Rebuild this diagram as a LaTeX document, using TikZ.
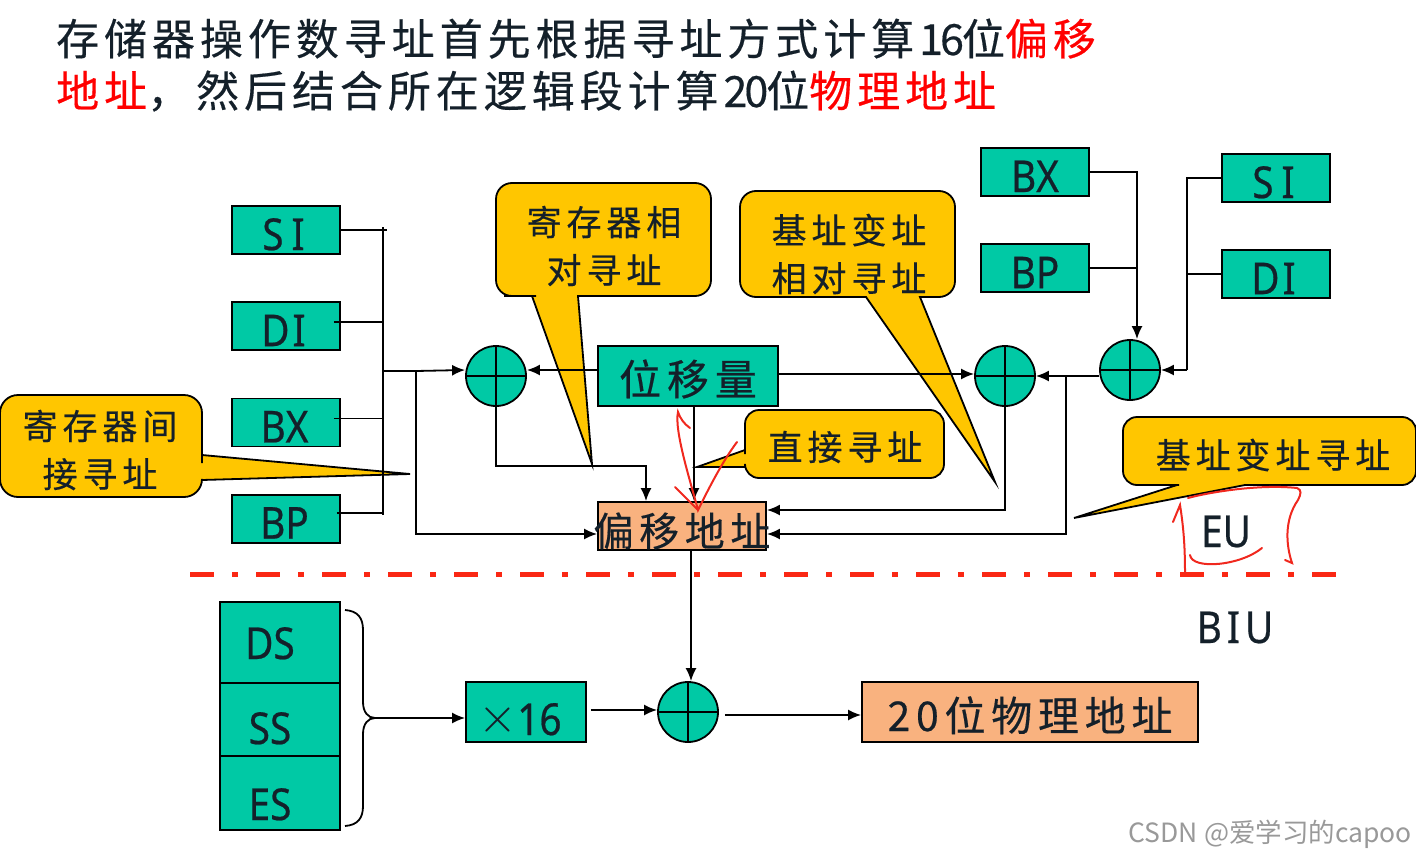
\documentclass[tikz,border=0pt]{standalone}
\usepackage{fontspec}
\setmainfont{Noto Sans CJK SC}
\newfontfamily\regfont[FakeStretch=0.88,FakeBold=0.5]{Noto Sans}
\newfontfamily\titlefont[LetterSpace=11.5,FakeBold=0.4]{Noto Sans CJK SC}
\newfontfamily\wordfont[LetterSpace=14,FakeBold=0.4]{Noto Sans CJK SC}
\newcommand{\crosssign}{\raisebox{3pt}{\scalebox{5}{\fontsize{10}{12}\selectfont$\times$}}}
\usetikzlibrary{arrows.meta,positioning}
\definecolor{reggreen}{HTML}{00C9A5}
\definecolor{bubblegold}{HTML}{FFC600}
\definecolor{addrorange}{HTML}{F9B27F}
\definecolor{ink}{HTML}{14202A}
\definecolor{penred}{HTML}{F0281E}
\definecolor{cutred}{HTML}{FA2814}

\begin{document}
\begin{tikzpicture}[
    x=1pt, y=-1pt,
    text=ink,
    node distance=46.4pt,
    regbox/.style={
        draw=black,
        line width=1.8pt,
        fill=reggreen,
        minimum width=108pt,
        minimum height=48pt,
        inner sep=0pt,
        text height=40pt,
        text depth=0pt,
        font=\fontsize{44}{44}\regfont
    },
    segbox/.style={draw=black, line width=1.8pt, fill=reggreen, minimum width=120pt, inner sep=0pt, outer sep=0pt},
    segtext/.style={anchor=base, inner sep=0pt, font=\fontsize{44}{44}\regfont},
    adder/.style={
        circle, draw=black, line width=1.8pt, fill=reggreen,
        minimum size=60pt, inner sep=0pt,
        path picture={
            \draw[line width=1.8pt] (path picture bounding box.north) -- (path picture bounding box.south)
                (path picture bounding box.west) -- (path picture bounding box.east);
        }
    },
    arrow/.style={-{Latex[length=13pt,width=11pt]}, line width=1.8pt, draw=black},
    wire/.style={line width=1.8pt, draw=black},
    bubble/.style={draw=black, line width=1.8pt, fill=bubblegold},
    bubbletext/.style={inner sep=0pt, align=center, font=\fontsize{35}{48}\wordfont},
    pen/.style={draw=penred, line width=2pt, line cap=round}
]
\useasboundingbox (0,0) rectangle (1416,859);

% heading
\node[anchor=base west, inner sep=0pt, font=\fontsize{43}{52}\titlefont] (title1) at (56,55)
    {存储器操作数寻址首先根据寻址方式计算1\kern-3pt 6\kern-2pt 位\textcolor{red}{偏移}};
\node[anchor=base west, inner sep=0pt, font=\fontsize{43}{52}\titlefont] (title2) at (56,107)
    {\textcolor{red}{地址}，\kern6pt 然后结合所在逻辑段计算2\kern-3pt 0\kern-2pt 位\textcolor{red}{物理地址}};

% callouts go under the wires
\draw[bubble] (532,296) -- (592,464) -- (578,296) -- (600,296) [rounded corners=16pt] -- (711,296) -- (711,183)
    -- (496,183) -- (496,296) -- (520,296) [sharp corners] -- cycle;
\node[bubbletext] (relreg) at (604,246) {寄存器相\\对寻址};
\draw[bubble] (866,297) -- (995,482) -- (920,297) -- (930,297) [rounded corners=16pt] -- (955,297) -- (955,191)
    -- (740,191) -- (740,297) -- (850,297) [sharp corners] -- cycle;
\node[bubbletext] (relbase) at (849,254) {基址变址\\相对寻址};
\draw[bubble] (745,450) -- (697,467) -- (745,467) [rounded corners=14pt] -- (745,478) -- (944,478) -- (944,410)
    -- (745,410) -- (745,440) [sharp corners] -- cycle;
\node[bubbletext] (direct) at (845,447) {直接寻址};
\draw[bubble] (202,455) -- (410,474) -- (202,480) [rounded corners=18pt] -- (202,497) -- (0,497) -- (0,395)
    -- (202,395) -- (202,445) [sharp corners] -- cycle;
\node[bubbletext] (indirect) at (100,450) {寄存器间\\接寻址};
\draw[bubble] (1177,485) -- (1074,518) -- (1245,485) -- (1260,485) [rounded corners=14pt] -- (1416,485) -- (1416,417)
    -- (1123,417) -- (1123,485) -- (1165,485) [sharp corners] -- cycle;
\node[bubbletext] (basedx) at (1273,455) {基址变址寻址};

% registers
\node[regbox] (si1) at (286,230) {S\kern8pt I\kern5pt};
\node[regbox, below=of si1] (di1) {D\kern3pt I\kern5pt};
\node[regbox, below=of di1] (bx1) {BX\kern3pt};
\node[regbox, below=of bx1] (bp1) {BP\kern3pt};
\node[regbox] (bx2) at (1035,172) {BX};
\node[regbox, below=of bx2] (bp2) {BP};
\node[regbox] (si2) at (1276,178) {S\kern8pt I\kern5pt};
\node[regbox, below=of si2] (di2) {D\kern3pt I\kern5pt};

\node[regbox, minimum width=180pt, minimum height=60pt, text height=38pt, font=\fontsize{42}{42}\wordfont] (disp) at (688,376) {位移量};
\node[draw=black, line width=1.8pt, fill=addrorange, minimum width=168pt, minimum height=48pt, inner sep=0pt] (offset) at (682,526) {};
\node[inner sep=0pt, font=\fontsize{40}{40}\wordfont] (offsettext) at (682,531) {偏移地址};

\node[adder] (addl) at (496,376) {};
\node[adder] (addm) at (1005,376) {};
\node[adder] (addr) at (1130,370) {};
\node[adder] (addb) at (688,712) {};

% left bus
\coordinate (busin) at (383,371);
\coordinate (splitl) at (416,371);
\draw[wire] (383,227) -- (383,515);
\draw[wire] (si1.east) -- (si1.east -| 387,0);
\draw[wire] ([xshift=-7pt,yshift=4pt]di1.east) -- ([yshift=4pt]di1.east -| busin);
\draw[wire] ([xshift=-7pt,yshift=4pt]bx1.east) -- ([yshift=4pt]bx1.east -| busin);
\draw[wire] ([xshift=-4pt,yshift=6pt]bp1.east) -- ([yshift=6pt]bp1.east -| busin);
\draw[wire] (busin) -- (splitl);
\draw[arrow] (splitl) -- ([yshift=6pt]addl.west);
\draw[arrow] (splitl) |- ([yshift=-8pt]offset.west);

% displacement
\draw[arrow] ([yshift=6pt]disp.west) -- ([yshift=6pt]addl.east);
\draw[arrow] ([yshift=2pt]disp.east) -- ([yshift=2pt]addm.west);
\draw[arrow] (disp.south -| 694,0) -- (offset.north -| 694,0);
\draw[arrow] (addl.south) |- (646,466) -- (offset.north -| 646,0);

% right side
\draw[wire] (bx2.east) -| (1137,300);
\draw[wire] (bp2.east) -- (bp2.east -| 1137,0);
\draw[arrow] (bp2.east -| 1137,0) -- (addr.north -| 1137,0);
\draw[wire] (si2.west) -| (1187,370);
\draw[wire] (di2.west) -- (di2.west -| 1187,0);
\draw[arrow] (1187,370) -- (addr.east);
\draw[arrow] (addr.west |- 0,376) -- (addm.east);
\draw[arrow] (addm.south) |- ([yshift=16pt]offset.east);
\draw[arrow] (1066,376) |- ([yshift=-8pt]offset.east);

% cut between the units
\coordinate (cuta) at (190,574);
\coordinate (cutb) at (1336,574);
\draw[draw=cutred, line width=5pt, dash pattern=on 24pt off 18pt on 6pt off 18pt] (cuta) -- (cutb);

\node[inner sep=0pt, anchor=base, font=\fontsize{44}{44}\regfont] (eu) at (1226,547) {EU};
\node[inner sep=0pt, anchor=base, font=\fontsize{44}{44}\regfont] (biu) at (1235,643) {B\kern5pt I\kern5pt U};

% segment registers
\node[segbox, minimum height=81pt] (ds) at (280,642.5) {};
\node[segbox, minimum height=73pt, below=0pt of ds] (ss) {};
\node[segbox, minimum height=74pt, below=0pt of ss] (es) {};
\node[segtext] (dstext) at (270,659) {DS};
\node[segtext] (sstext) at (270,744) {SS};
\node[segtext] (estext) at (270,820) {ES};
\coordinate (brace) at (375,718);
\draw[wire] (345,610) .. controls (358,611) and (363,618) .. (363,630) -- (363,702)
    .. controls (363,712) and (368,718) .. (brace);
\draw[wire] (345,826) .. controls (358,825) and (363,818) .. (363,806) -- (363,734)
    .. controls (363,724) and (368,718) .. (brace);

\node[regbox, minimum width=120pt, minimum height=60pt, text height=46pt, font=\fontsize{44}{44}\regfont] (times) at (526,712)
    {\crosssign 16\kern12pt};
\draw[arrow] (brace) -- (times.west |- brace);
\draw[arrow] ([xshift=4pt,yshift=2pt]times.east) -- ([yshift=2pt]addb.west);
\draw[arrow] (offset.south -| 691,0) -- (addb.north -| 691,0);

\node[draw=black, line width=1.8pt, fill=addrorange, minimum width=336pt, minimum height=60pt, inner sep=0pt,
      text height=38pt, text depth=0pt, font=\fontsize{41}{41}\wordfont] (phys) at (1030,712) {20位物理地址};
\draw[arrow] ([xshift=6pt,yshift=-3pt]addb.east) -- ([yshift=-3pt]phys.west);

% red pen marks
\draw[pen] (690,428) .. controls (684,424) and (680,418) .. (678,412) .. controls (674,430) and (690,480) .. (698,510)
    .. controls (708,490) and (722,462) .. (737,442);
\draw[pen] (675,487) -- (698,510);
\draw[pen] (1173,522) -- (1180,505) .. controls (1184,530) and (1185,550) .. (1185,573);
\draw[pen] (1188,498) .. controls (1210,492) and (1260,484) .. (1297,488) .. controls (1302,490) and (1301,494) .. (1298,500)
    .. controls (1284,520) and (1286,545) .. (1292,563) -- (1285,560);
\draw[pen] (1190,555) .. controls (1192,570) and (1240,566) .. (1262,548);

\node[inner sep=0pt, text=black!40, anchor=base east, font=\fontsize{26.5}{26.5}\selectfont] (mark) at (1412,842) {CSDN @爱学习的capoo};

\end{tikzpicture}
\end{document}
